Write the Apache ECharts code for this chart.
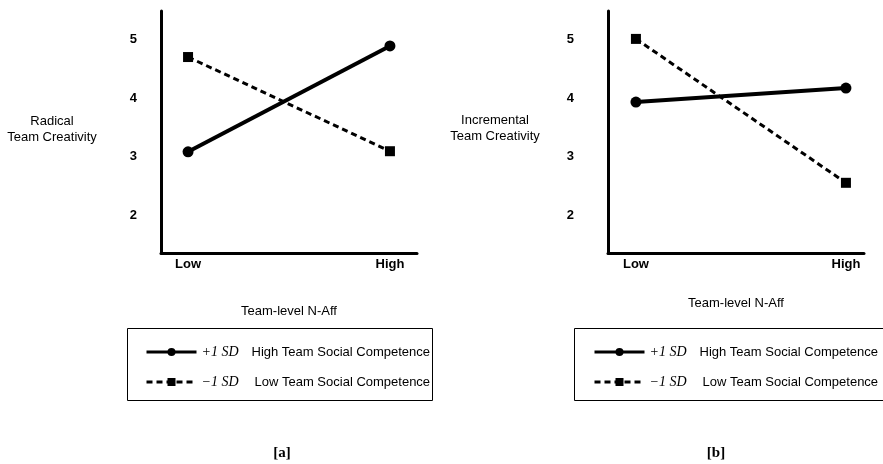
<!DOCTYPE html>
<html>
<head>
<meta charset="utf-8">
<script src="https://cdn.jsdelivr.net/npm/echarts@6/dist/echarts.min.js"></script>
<style>
html,body{margin:0;padding:0;background:#fff;}
#chart{width:883px;height:464px;}
</style>
</head>
<body>
<div id="chart"></div>
<script>
// ---- data ----
const categories = ['Low', 'High'];
const yTicks = [2, 3, 4, 5];
const xName = 'Team-level N-Aff';
const panelTitles = ['Radical\nTeam Creativity', 'Incremental\nTeam Creativity'];
const panelTags = ['[a]', '[b]'];
const seriesHigh = { sd: '+1 SD', label: 'High Team Social Competence' };
const seriesLow = { sd: '\u22121 SD', label: 'Low Team Social Competence' };
const radicalHigh = [3.08, 4.89];
const radicalLow = [4.70, 3.09];
const incrementalHigh = [3.93, 4.17];
const incrementalLow = [5.01, 2.55];

const SANS = "'Liberation Sans', Arial, sans-serif";
const SERIF = "'Liberation Serif', 'Times New Roman', serif";
const nameHigh = seriesHigh.sd + '|' + seriesHigh.label;
const nameLow = seriesLow.sd + '|' + seriesLow.label;

function pts(vals) { return vals.map((v, i) => [i, v]); }

const grids = [
  { left: 161, top: 11, width: 256, height: 242 },
  { left: 608, top: 11, width: 256, height: 242 }
];
const xRanges = [[-0.134, 1.134], [-0.133, 1.086]];
const yLabelMargins = [24, 34];
const xNameGaps = [52, 44];

function xAxis(i) {
  return {
    type: 'value', gridIndex: i, min: xRanges[i][0], max: xRanges[i][1],
    name: xName, nameLocation: 'middle', nameGap: xNameGaps[i],
    nameTextStyle: { fontFamily: SANS, fontSize: 13, color: '#000' },
    axisLine: { show: true, onZero: false, lineStyle: { color: '#000', width: 3 } },
    axisTick: { show: false }, splitLine: { show: false },
    axisLabel: {
      customValues: categories.map((c, k) => k),
      formatter: v => categories[Math.round(v)] || '',
      fontFamily: SANS, fontSize: 13, fontWeight: 'bold', color: '#000', margin: 5
    }
  };
}
function yAxis(i) {
  return {
    type: 'value', gridIndex: i, min: 1.35, max: 5.487,
    axisLine: { show: true, onZero: false, lineStyle: { color: '#000', width: 3 } },
    axisTick: { show: false }, splitLine: { show: false },
    axisLabel: {
      customValues: yTicks,
      fontFamily: SANS, fontSize: 13, fontWeight: 'bold', color: '#000', margin: yLabelMargins[i]
    }
  };
}
function solid(name, vals, i) {
  return {
    type: 'line', name: name, xAxisIndex: i, yAxisIndex: i, data: pts(vals),
    symbol: 'circle', symbolSize: 11, animation: false,
    lineStyle: { color: '#000', width: 4, type: 'solid' },
    itemStyle: { color: '#000' }
  };
}
function dashed(name, vals, i) {
  return {
    type: 'line', name: name, xAxisIndex: i, yAxisIndex: i, data: pts(vals),
    symbol: 'rect', symbolSize: 10, animation: false,
    lineStyle: { color: '#000', width: 3, type: [6, 4] },
    itemStyle: { color: '#000' }
  };
}
function legend(left, top) {
  return {
    left: left, top: top, orient: 'vertical', itemWidth: 50, itemHeight: 10, itemGap: 16,
    data: [nameHigh, nameLow], selectedMode: false,
    lineStyle: { width: 3 },
    formatter: n => {
      const p = n.split('|');
      return (n === nameHigh ? '{i1|' : '{i2|') + p[0] + '}{t|' + p[1] + '}';
    },
    textStyle: {
      color: '#000',
      rich: {
        i1: { fontFamily: SERIF, fontStyle: 'italic', fontSize: 14, width: 50, lineHeight: 16, color: '#000' },
        i2: { fontFamily: SERIF, fontStyle: 'italic', fontSize: 14, width: 53, lineHeight: 16, color: '#000' },
        t: { fontFamily: SANS, fontSize: 13, lineHeight: 16, color: '#000' }
      }
    }
  };
}

const chart = echarts.init(document.getElementById('chart'), null, { renderer: 'canvas' });
chart.setOption({
  backgroundColor: '#fff',
  animation: false,
  grid: grids,
  xAxis: [xAxis(0), xAxis(1)],
  yAxis: [yAxis(0), yAxis(1)],
  legend: [legend(140, 340), legend(588, 340)],
  series: [
    solid(nameHigh, radicalHigh, 0), dashed(nameLow, radicalLow, 0),
    solid(nameHigh, incrementalHigh, 1), dashed(nameLow, incrementalLow, 1)
  ],
  graphic: [
    { type: 'text', x: 52, y: 129, style: { text: panelTitles[0], fontFamily: SANS, fontSize: 13, lineHeight: 16, fill: '#000', align: 'center', verticalAlign: 'middle' } },
    { type: 'text', x: 495, y: 128, style: { text: panelTitles[1], fontFamily: SANS, fontSize: 13, lineHeight: 16, fill: '#000', align: 'center', verticalAlign: 'middle' } },
    { type: 'rect', shape: { x: 127.5, y: 328.5, width: 305, height: 72 }, style: { fill: 'none', stroke: '#000', lineWidth: 1 } },
    { type: 'rect', shape: { x: 574.5, y: 328.5, width: 320, height: 72 }, style: { fill: 'none', stroke: '#000', lineWidth: 1 } },
    { type: 'text', x: 282, y: 453, style: { text: panelTags[0], fontFamily: SERIF, fontSize: 15, fontWeight: 'bold', fill: '#000', align: 'center', verticalAlign: 'middle' } },
    { type: 'text', x: 716, y: 453, style: { text: panelTags[1], fontFamily: SERIF, fontSize: 15, fontWeight: 'bold', fill: '#000', align: 'center', verticalAlign: 'middle' } }
  ]
});
</script>
</body>
</html>
